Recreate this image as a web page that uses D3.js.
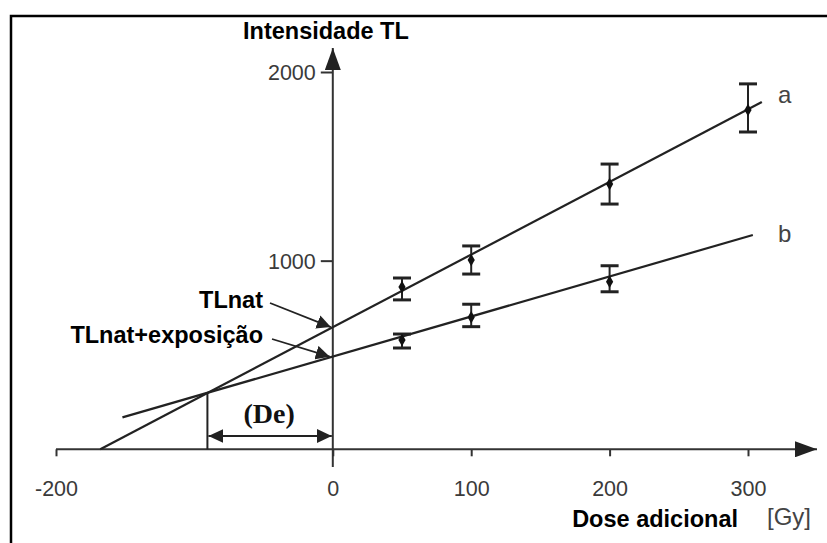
<!DOCTYPE html>
<html>
<head>
<meta charset="utf-8">
<script src="https://cdn.jsdelivr.net/npm/d3@7"></script>
<style>
  html, body { margin: 0; padding: 0; background: #fff; }
  svg { display: block; }
</style>
</head>
<body>
<svg id="chart" width="827" height="543"></svg>
<script>
// ---------- data ----------
const xTicks = [-200, 0, 100, 200, 300];
const yTicks = [1000, 2000];
const doses = [50, 100, 200, 300];
const seriesA = [860, 1003, 1406, 1799];
const seriesALow = [792, 929, 1300, 1682];
const seriesAHigh = [908, 1078, 1512, 1937];
const dosesB = [50, 100, 200];
const seriesB = [580, 700, 888];
const seriesBLow = [537, 650, 835];
const seriesBHigh = [611, 769, 973];
const lineADose = [-168, 310];
const lineAValue = [0, 1841];
const lineBDose = [-152, 303.5];
const lineBValue = [169, 1136];
const tlNat = 648;          // intercept of line a at dose 0
const tlNatExp = 491;       // intercept of line b at dose 0
const deDose = -90.6;       // dose at intersection of the two lines
const deValue = 299;
const labels = { y: "Intensidade TL", x: "Dose adicional", unit: "[Gy]",
  a: "a", b: "b", tl: "TLnat", tlExp: "TLnat+exposição", de: "(De)" };

// ---------- drawing ----------
const svg = d3.select("#chart");
const x = d3.scaleLinear().domain([-200, 300]).range([56, 748]);
const y = d3.scaleLinear().domain([0, 2000]).range([449.3, 72]);
const ink = "#222";
const sans = "'Liberation Sans', Arial, sans-serif";

// frame (left + top, continues past the picture)
svg.append("path").attr("d", "M11,560V16H840")
  .attr("fill", "none").attr("stroke", "#000").attr("stroke-width", 2.5);

const defs = svg.append("defs");
function marker(id, len, half, color) {
  defs.append("marker").attr("id", id)
    .attr("markerUnits", "userSpaceOnUse")
    .attr("viewBox", `0 ${-half} ${len} ${2 * half}`)
    .attr("refX", len).attr("refY", 0)
    .attr("markerWidth", len).attr("markerHeight", 2 * half)
    .attr("orient", "auto-start-reverse")
    .append("path").attr("d", `M0,${-half}L${len},0L0,${half}Z`).attr("fill", color);
}
marker("axArrow", 22, 8, "#222");
marker("smallArrow", 14, 7, "#222");
marker("deArrow", 15, 7, "#222");

// x axis
const xAxis = d3.axisBottom(x).tickValues(xTicks).tickSize(7).tickFormat(d => String(d));
const gx = svg.append("g").attr("transform", `translate(0,${y(0)})`).call(xAxis);
gx.select(".domain").remove();
gx.selectAll(".tick line").attr("stroke", "#333").attr("stroke-width", 2);
gx.selectAll(".tick text").attr("y", 47).attr("dy", 0)
  .attr("font-family", sans).attr("font-size", 21.5).attr("fill", "#3a3a3a");
svg.append("line").attr("x1", x(-200)).attr("x2", 817).attr("y1", y(0)).attr("y2", y(0))
  .attr("stroke", "#333").attr("stroke-width", 2).attr("marker-end", "url(#axArrow)");

// y axis
const yAxis = d3.axisLeft(y).tickValues(yTicks).tickSize(12).tickFormat(d => String(d));
const gy = svg.append("g").attr("transform", `translate(${x(0)},0)`).call(yAxis);
gy.select(".domain").remove();
gy.selectAll(".tick line").attr("stroke", "#333").attr("stroke-width", 2);
gy.selectAll(".tick text").attr("x", -17).attr("dy", "0.36em")
  .attr("font-family", sans).attr("font-size", 21.5).attr("fill", "#3a3a3a");
svg.append("line").attr("x1", x(0)).attr("x2", x(0)).attr("y1", 467).attr("y2", 48)
  .attr("stroke", "#333").attr("stroke-width", 2).attr("marker-end", "url(#axArrow)");

// fitted lines
const lineGen = d3.line().x(d => x(d[0])).y(d => y(d[1]));
svg.append("path").datum(d3.zip(lineADose, lineAValue)).attr("d", lineGen)
  .attr("fill", "none").attr("stroke", ink).attr("stroke-width", 2.2);
svg.append("path").datum(d3.zip(lineBDose, lineBValue)).attr("d", lineGen)
  .attr("fill", "none").attr("stroke", ink).attr("stroke-width", 2.2);

// error bars + points
function drawSeries(ds, vals, lo, hi) {
  const data = ds.map((d, i) => ({ d, v: vals[i], lo: lo[i], hi: hi[i] }));
  const g = svg.append("g");
  g.selectAll(".eb").data(data).join("line")
    .attr("x1", p => x(p.d)).attr("x2", p => x(p.d))
    .attr("y1", p => y(p.lo)).attr("y2", p => y(p.hi))
    .attr("stroke", ink).attr("stroke-width", 2);
  ["lo", "hi"].forEach(k => {
    g.selectAll(".cap" + k).data(data).join("line")
      .attr("x1", p => x(p.d) - 9).attr("x2", p => x(p.d) + 9)
      .attr("y1", p => y(p[k])).attr("y2", p => y(p[k]))
      .attr("stroke", ink).attr("stroke-width", 3);
  });
  g.selectAll(".pt").data(data).join("path")
    .attr("transform", p => `translate(${x(p.d)},${y(p.v)})`)
    .attr("d", d3.symbol(d3.symbolDiamond, 45)).attr("fill", "#111");
}
drawSeries(doses, seriesA, seriesALow, seriesAHigh);
drawSeries(dosesB, seriesB, seriesBLow, seriesBHigh);

// De construction
svg.append("line").attr("x1", x(deDose)).attr("x2", x(deDose))
  .attr("y1", y(deValue)).attr("y2", y(0)).attr("stroke", ink).attr("stroke-width", 2);
svg.append("line").attr("x1", x(deDose) + 1).attr("x2", x(0) - 1)
  .attr("y1", 436).attr("y2", 436).attr("stroke", ink).attr("stroke-width", 2)
  .attr("marker-start", "url(#deArrow)").attr("marker-end", "url(#deArrow)");
svg.append("text").attr("x", (x(deDose) + x(0)) / 2 - 1).attr("y", 423)
  .attr("text-anchor", "middle").attr("font-family", "'Liberation Serif', 'Times New Roman', serif")
  .attr("font-weight", "bold").attr("font-size", 28).attr("fill", "#111").text(labels.de);

// annotation arrows
svg.append("line").attr("x1", 270).attr("y1", 303).attr("x2", x(0) - 2).attr("y2", y(tlNat))
  .attr("stroke", ink).attr("stroke-width", 1.8).attr("marker-end", "url(#smallArrow)");
svg.append("line").attr("x1", 272).attr("y1", 339).attr("x2", x(0) - 3).attr("y2", y(tlNatExp))
  .attr("stroke", ink).attr("stroke-width", 1.8).attr("marker-end", "url(#smallArrow)");

function boldText(tx, ty, anchor, str, size) {
  svg.append("text").attr("x", tx).attr("y", ty).attr("text-anchor", anchor)
    .attr("font-family", sans).attr("font-weight", "bold").attr("font-size", size || 23.5)
    .attr("fill", "#000").text(str);
}
boldText(263, 308, "end", labels.tl);
boldText(263, 343, "end", labels.tlExp);
boldText(243, 39, "start", labels.y);
boldText(738, 527, "end", labels.x);

svg.append("text").attr("x", 767).attr("y", 525).attr("font-family", sans)
  .attr("font-size", 24).attr("fill", "#444").text(labels.unit);
svg.append("text").attr("x", 778).attr("y", 103).attr("font-family", sans)
  .attr("font-size", 24).attr("fill", "#444").text(labels.a);
svg.append("text").attr("x", 778).attr("y", 242).attr("font-family", sans)
  .attr("font-size", 24).attr("fill", "#444").text(labels.b);
</script>
</body>
</html>
